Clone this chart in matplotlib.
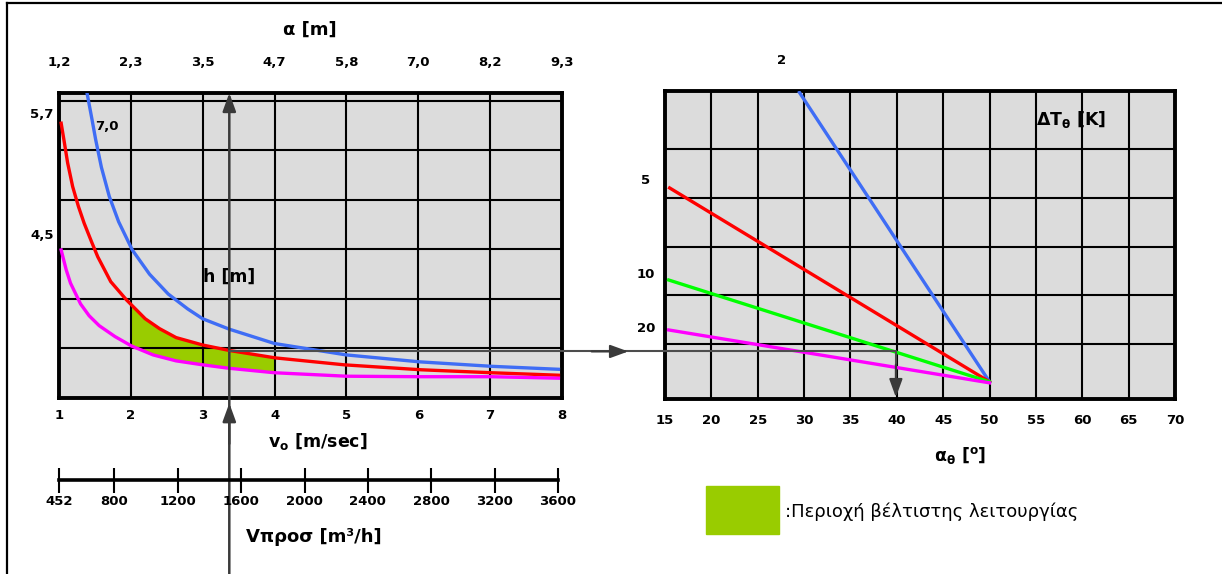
import numpy as np
import matplotlib
matplotlib.use("Agg")
import matplotlib.pyplot as plt
from matplotlib.lines import Line2D
from matplotlib.patches import Rectangle, FancyArrowPatch

plt.rcParams['font.family'] = ['DejaVu Sans']
plt.rcParams['mathtext.fontset'] = 'dejavusans'

#----------------------------------------------------------------------------#
# data

# left chart: h [m] against v_o [m/sec]
v_ticks = [1, 2, 3, 4, 5, 6, 7, 8]
a_labels = ['1,2', '2,3', '3,5', '4,7', '5,8', '7,0', '8,2', '9,3']
V_ticks = [452, 800, 1200, 1600, 2000, 2400, 2800, 3200, 3600]

v_blue = [1.39, 1.46, 1.51, 1.59, 1.70, 1.83, 2.02, 2.26, 2.52, 2.79, 3.00,
          3.37, 4.00, 5.00, 6.02, 7.02, 7.95]
h_blue = [6.16, 5.62, 5.22, 4.66, 4.07, 3.56, 2.99, 2.50, 2.10, 1.80, 1.60,
          1.39, 1.10, 0.87, 0.73, 0.64, 0.58]

v_red = [1.03, 1.07, 1.12, 1.19, 1.27, 1.35, 1.46, 1.54, 1.72, 1.94, 2.20,
         2.40, 2.63, 3.00, 3.37, 4.01, 4.97, 6.04, 7.02, 7.95]
h_red = [5.55, 5.20, 4.75, 4.27, 3.87, 3.53, 3.13, 2.85, 2.35, 1.98, 1.60,
         1.40, 1.22, 1.07, 0.96, 0.81, 0.67, 0.57, 0.51, 0.46]

v_mag = [1.03, 1.10, 1.16, 1.30, 1.42, 1.56, 1.78, 2.01, 2.31, 2.63, 3.00,
         3.37, 4.00, 5.00, 6.02, 7.02, 7.95]
h_mag = [2.99, 2.59, 2.32, 1.90, 1.66, 1.46, 1.24, 1.05, 0.87, 0.75, 0.67,
         0.60, 0.51, 0.44, 0.43, 0.43, 0.40]

# optimal operating region (green)
opt_v = [2.0, 2.2, 2.4, 2.63, 3.0, 3.37, 4.0]
opt_upper = [1.90, 1.60, 1.40, 1.22, 1.07, 0.96, 0.81]
opt_lower = [1.05, 0.93, 0.84, 0.75, 0.67, 0.60, 0.51]

# right chart: lines of constant dT_theta against alpha_theta
at_ticks = [15, 20, 25, 30, 35, 40, 45, 50, 55, 60, 65, 70]
at_dT2 = [29.5, 50.0]
y_dT2 = [6.26, 0.35]
at_dT5 = [15.5, 50.0]
y_dT5 = [4.31, 0.35]
at_dT10 = [15.4, 50.0]
y_dT10 = [2.43, 0.35]
at_dT20 = [15.4, 50.0]
y_dT20 = [1.41, 0.33]
right_grid_y = [1.13, 2.13, 3.11, 4.10, 5.11]

# example reading
v_op = 3.37
h_op = 0.94
at_op = 39.9

#----------------------------------------------------------------------------#

W, H = 1222, 574
fig = plt.figure(figsize=(W / 100, H / 100), dpi=100)

def pxAxes(l, t, r, b):
    return fig.add_axes([l / W, 1 - b / H, (r - l) / W, (b - t) / H])

def figPt(x, y):
    return (x / W, 1 - y / H)

BOLD = dict(fontweight='bold')
TICK = 9.5
LABEL = 12.5

def styleBox(ax):
    ax.set_facecolor('#dcdcdc')
    for s in ax.spines.values():
        s.set_linewidth(2.8)
        s.set_color('black')
    ax.grid(True, color='black', linewidth=1.5)
    ax.tick_params(length=0, labelsize=TICK)
    for lab in ax.get_xticklabels():
        lab.set_fontweight('bold')

# ---- left chart
ax1 = pxAxes(59, 93, 562, 398)
ax1.set_xlim(1, 8)
ax1.set_ylim(0, 6.16)
ax1.set_xticks(v_ticks, [str(v) for v in v_ticks])
ax1.set_yticks([1, 2, 3, 4, 5, 6], [])
ax1.tick_params(axis='x', pad=8)
styleBox(ax1)

ax1.fill_between(opt_v, opt_lower, opt_upper, color='#99cc00', lw=0, zorder=1)
ax1.plot(v_blue, h_blue, color='#3f6df5', lw=2.4, zorder=3)
ax1.plot(v_red, h_red, color='#ff0000', lw=2.4, zorder=3)
ax1.plot(v_mag, h_mag, color='#ff00ff', lw=2.4, zorder=3)

top = ax1.secondary_xaxis('top')
top.set_xticks(v_ticks, a_labels)
top.tick_params(length=0, pad=17, labelsize=TICK)
top.spines['top'].set_visible(False)
for lab in top.get_xticklabels():
    lab.set_fontweight('bold')

ax1.text(3.37, 2.44, 'h [m]', ha='center', va='center', fontsize=LABEL, **BOLD)
ax1.text(1.66, 5.48, '7,0', ha='center', va='center', fontsize=TICK, **BOLD)
fig.text(*figPt(42, 115), '5,7', ha='center', va='center', fontsize=TICK, **BOLD)
fig.text(*figPt(42, 235), '4,5', ha='center', va='center', fontsize=TICK, **BOLD)
fig.text(*figPt(310, 30), 'α [m]', ha='center', va='center', fontsize=13, **BOLD)
fig.text(*figPt(318, 442), r'v$_{\mathbf{o}}$ [m/sec]', ha='center', va='center',
         fontsize=LABEL, **BOLD)

# ---- flow rate scale
ax3 = pxAxes(59.3, 479, 558, 480)
ax3.set_xlim(V_ticks[0], V_ticks[-1])
ax3.set_ylim(0, 1)
ax3.patch.set_visible(False)
for k in ['top', 'left', 'right']:
    ax3.spines[k].set_visible(False)
ax3.spines['bottom'].set_linewidth(2.6)
ax3.set_yticks([])
ax3.set_xticks(V_ticks, [str(v) for v in V_ticks])
ax3.tick_params(axis='x', direction='inout', length=18, width=1.5, pad=2,
                labelsize=TICK)
for lab in ax3.get_xticklabels():
    lab.set_fontweight('bold')
fig.text(*figPt(314, 537), 'Vπροσ [m³/h]', ha='center', va='center',
         fontsize=13, **BOLD)

# ---- right chart
ax2 = pxAxes(665, 91, 1175, 399)
ax2.set_xlim(15, 70)
ax2.set_ylim(0, 6.29)
ax2.set_xticks(at_ticks, [str(a) for a in at_ticks])
ax2.set_yticks(right_grid_y, [])
ax2.tick_params(axis='x', pad=11)
styleBox(ax2)

ax2.plot(at_dT2, y_dT2, color='#3f6df5', lw=2.4, zorder=3)
ax2.plot(at_dT5, y_dT5, color='#ff0000', lw=2.4, zorder=3)
ax2.plot(at_dT10, y_dT10, color='#00ff00', lw=2.4, zorder=3)
ax2.plot(at_dT20, y_dT20, color='#ff00ff', lw=2.4, zorder=3)

fig.text(*figPt(782, 61), '2', ha='center', va='center', fontsize=TICK, **BOLD)
fig.text(*figPt(646, 180), '5', ha='center', va='center', fontsize=TICK, **BOLD)
fig.text(*figPt(646, 275), '10', ha='center', va='center', fontsize=TICK, **BOLD)
fig.text(*figPt(646, 328), '20', ha='center', va='center', fontsize=TICK, **BOLD)
fig.text(*figPt(1071, 119), r'ΔT$_{\mathbf{θ}}$ [K]', ha='center', va='center',
         fontsize=LABEL, **BOLD)
fig.text(*figPt(960, 455), r'α$_{\mathbf{θ}}$ [$^{\mathbf{o}}$]', ha='center',
         va='center', fontsize=LABEL, **BOLD)

# ---- reading path with arrows
ARROW = '#3a3a3a'
head = '-|>,head_length=1.1,head_width=0.4'

ax1.annotate('', xy=(v_op, 1.0), xycoords=('data', 'axes fraction'),
             xytext=(v_op, 0.0), textcoords=('data', 'figure fraction'),
             arrowprops=dict(arrowstyle=head, color=ARROW, lw=1.8,
                             shrinkA=0, shrinkB=0),
             annotation_clip=False, zorder=6)
ax1.annotate('', xy=(v_op, -0.017), xycoords=('data', 'axes fraction'),
             xytext=(v_op, -0.15), textcoords=('data', 'axes fraction'),
             arrowprops=dict(arrowstyle=head, color=ARROW, lw=1.8,
                             shrinkA=0, shrinkB=0),
             annotation_clip=False, zorder=6)

toFig = fig.transFigure.inverted()
p0 = ax1.transData.transform((v_op, h_op))
y_r = ax2.transData.inverted().transform(p0)[1]
p1 = ax2.transData.transform((at_op, y_r))
p2 = ax2.transData.transform((at_op, 0.0))
p0, p1, p2 = toFig.transform([p0, p1, p2])

fig.add_artist(Line2D([p0[0], p1[0], p1[0]], [p0[1], p1[1], p2[1] + 0.02],
                      color='#4d4d4d', lw=1.5, zorder=6))
xa = toFig.transform(ax2.transAxes.transform((-0.072, 0)))[0]
fig.add_artist(FancyArrowPatch((xa - 0.03, p0[1]), (xa, p0[1]),
                               transform=fig.transFigure, arrowstyle=head,
                               mutation_scale=10, color=ARROW, lw=1.5,
                               shrinkA=0, shrinkB=0, zorder=6))
fig.add_artist(FancyArrowPatch((p1[0], p2[1] + 0.06), (p1[0], p2[1] + 0.003),
                               transform=fig.transFigure, arrowstyle=head,
                               mutation_scale=10, color=ARROW, lw=1.5,
                               shrinkA=0, shrinkB=0, zorder=6))

# ---- legend for the green area
fig.add_artist(Rectangle(figPt(706, 534), 72.6 / W, 48 / H, color='#99cc00',
                         transform=fig.transFigure))
fig.text(*figPt(785, 512), ':Περιοχή βέλτιστης λειτουργίας', ha='left',
         va='center', fontsize=13)

# ---- outer frame (top and left edges only)
fig.add_artist(Line2D([7 / W, 1], [1 - 3 / H, 1 - 3 / H], color='black', lw=1.6))
fig.add_artist(Line2D([7 / W, 7 / W], [0, 1 - 3 / H], color='black', lw=1.6))

fig.savefig('out.png', dpi=100)
